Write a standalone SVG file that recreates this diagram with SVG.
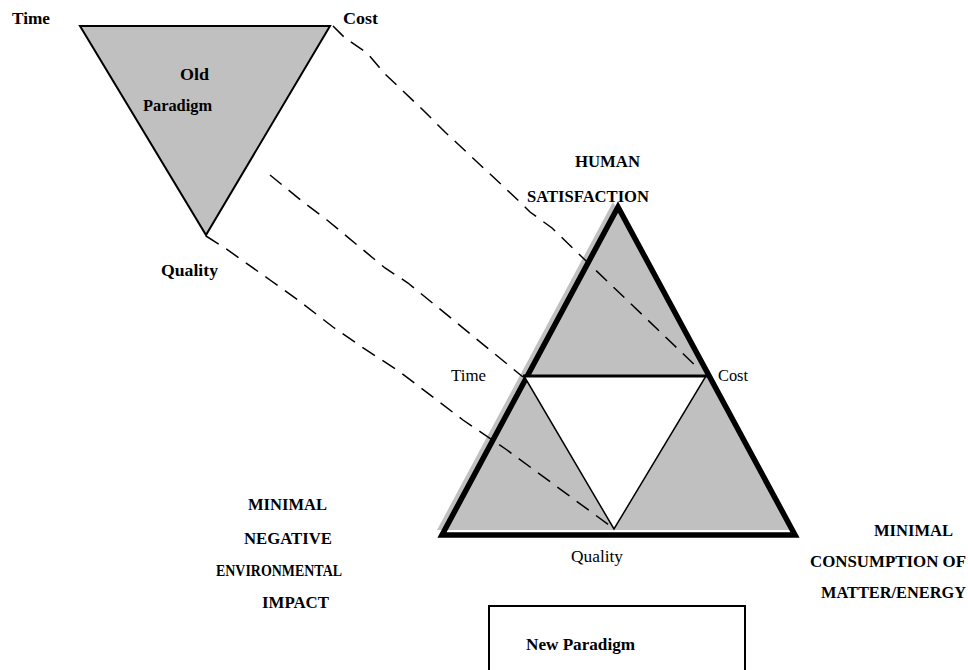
<svg xmlns="http://www.w3.org/2000/svg" width="968" height="670" viewBox="0 0 968 670">
<style>
.b{font-family:"Liberation Serif","Times New Roman",serif;font-weight:bold;font-size:16px;fill:#000}
.r{font-family:"Liberation Serif","Times New Roman",serif;font-size:16px;fill:#000}
.dash{fill:none;stroke:#000;stroke-width:1.5;stroke-dasharray:15,9}
</style>
<rect width="968" height="670" fill="#fff"/>
<g id="old-paradigm">
<polygon points="80,26 330,26 206,235" fill="#c0c0c0" stroke="#000" stroke-width="2" stroke-linejoin="miter"/>
<text class="b" x="180" y="80" textLength="29" lengthAdjust="spacingAndGlyphs">Old</text>
<text class="b" x="143" y="111" textLength="69" lengthAdjust="spacingAndGlyphs">Paradigm</text>
<text class="b" x="12" y="24" textLength="38" lengthAdjust="spacingAndGlyphs">Time</text>
<text class="b" x="343" y="24" textLength="35" lengthAdjust="spacingAndGlyphs">Cost</text>
<text class="b" x="161" y="276" textLength="57" lengthAdjust="spacingAndGlyphs">Quality</text>
</g>
<g id="new-triangle">
<polygon points="613,202 437,530 790,530" fill="#c0c0c0"/>
<polygon points="618,207 442,535 795,535" fill="none" stroke="#000" stroke-width="5.5" stroke-linejoin="miter"/>
<polygon points="524,376 706,376 614,529" fill="#fff" stroke="#000" stroke-width="1.5"/>
<line x1="523" y1="376" x2="707" y2="376" stroke="#000" stroke-width="3"/>
<text class="r" x="451" y="381" textLength="35" lengthAdjust="spacingAndGlyphs">Time</text>
<text class="r" x="718" y="381" textLength="30" lengthAdjust="spacingAndGlyphs">Cost</text>
<text class="r" x="571" y="562" textLength="52" lengthAdjust="spacingAndGlyphs">Quality</text>
</g>
<g id="human-satisfaction">
<text class="b" x="575" y="167" textLength="65" lengthAdjust="spacingAndGlyphs">HUMAN</text>
<text class="b" x="527" y="202" textLength="122" lengthAdjust="spacingAndGlyphs">SATISFACTION</text>
</g>
<g id="environmental-impact">
<text class="b" x="248" y="510" textLength="79" lengthAdjust="spacingAndGlyphs">MINIMAL</text>
<text class="b" x="244" y="544" textLength="88" lengthAdjust="spacingAndGlyphs">NEGATIVE</text>
<text class="b" x="216" y="576" textLength="126" lengthAdjust="spacingAndGlyphs">ENVIRONMENTAL</text>
<text class="b" x="262" y="608" textLength="67" lengthAdjust="spacingAndGlyphs">IMPACT</text>
</g>
<g id="matter-energy">
<text class="b" x="874" y="536" textLength="79" lengthAdjust="spacingAndGlyphs">MINIMAL</text>
<text class="b" x="810" y="567" textLength="156" lengthAdjust="spacingAndGlyphs">CONSUMPTION OF</text>
<text class="b" x="821" y="598" textLength="145" lengthAdjust="spacingAndGlyphs">MATTER/ENERGY</text>
</g>
<g id="new-paradigm">
<rect x="489" y="606" width="256" height="80" fill="#fff" stroke="#000" stroke-width="2"/>
<text class="b" x="526" y="650" textLength="109" lengthAdjust="spacingAndGlyphs">New Paradigm</text>
</g>
<g id="connectors">
<polyline class="dash" points="333,26 345,38 367,53 385,74 423,110 445,132 520,202 530,212 552,228 583,258 700,370"/>
<polyline class="dash" points="270,175 303,202 327,220 385,268 408,283 523,377"/>
<polyline class="dash" points="206,236 225,248 270,280 298,300 333,327 362,347 400,372 463,420 507,450 613,528"/>
</g>
</svg>
